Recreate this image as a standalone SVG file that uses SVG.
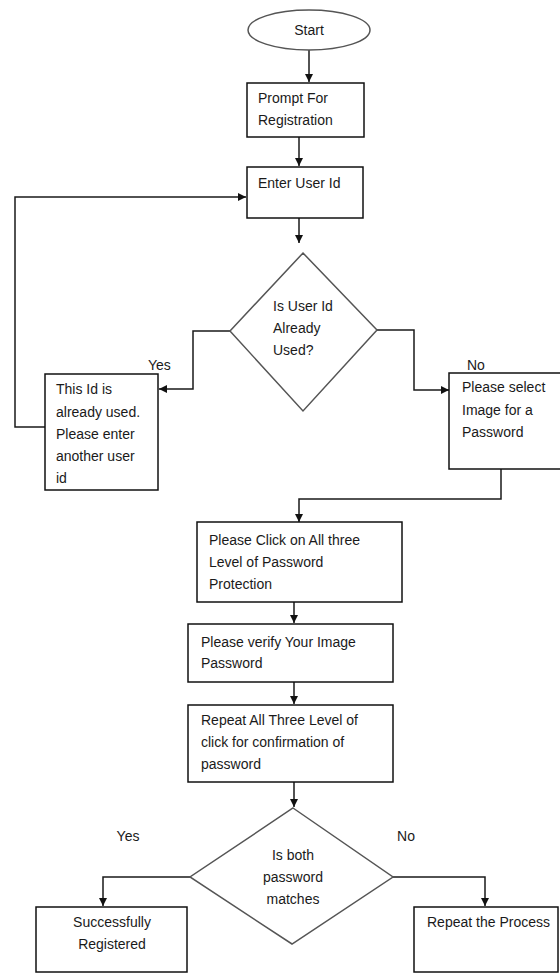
<svg xmlns="http://www.w3.org/2000/svg" width="560" height="974" viewBox="0 0 560 974">
<style>
.box{fill:#fff;stroke:#111;stroke-width:1.5}
.dia{fill:#fff;stroke:#555;stroke-width:1.5}
.con{fill:none;stroke:#1a1a1a;stroke-width:1.5}
text{font-family:"Liberation Sans",Arial,sans-serif;font-size:14px;fill:#1a1a1a}
.c{text-anchor:middle}
</style>
<defs>
<marker id="arr" viewBox="0 0 10 10" refX="10" refY="5" markerWidth="8" markerHeight="8" markerUnits="userSpaceOnUse" orient="auto">
<path d="M0,0 L10,5 L0,10 z" fill="#111"/>
</marker>
</defs>
<rect width="560" height="974" fill="#fff"/>
<g id="connectors">
<path class="con" d="M309,50 V82" marker-end="url(#arr)"/>
<path class="con" d="M299,137 V166" marker-end="url(#arr)"/>
<path class="con" d="M299,218 V243" marker-end="url(#arr)"/>
<path class="con" d="M45,427 H15 V197 H246" marker-end="url(#arr)"/>
<path class="con" d="M230,331 H193 V389 H159" marker-end="url(#arr)"/>
<path class="con" d="M377,330 H414 V390 H449" marker-end="url(#arr)"/>
<path class="con" d="M501,469 V499 H299 V522" marker-end="url(#arr)"/>
<path class="con" d="M294,602 V623" marker-end="url(#arr)"/>
<path class="con" d="M294,682 V704" marker-end="url(#arr)"/>
<path class="con" d="M294,782 V807" marker-end="url(#arr)"/>
<path class="con" d="M190,877 H103 V906" marker-end="url(#arr)"/>
<path class="con" d="M393,877 H485 V906" marker-end="url(#arr)"/>
</g>
<g id="start">
<ellipse cx="309" cy="30" rx="61" ry="20" class="dia" stroke="#222"/>
<text x="309" y="35" class="c">Start</text>
</g>
<g id="prompt">
<rect x="247" y="83" width="117" height="54" class="box"/>
<text x="258" y="103">Prompt For</text>
<text x="258" y="125">Registration</text>
</g>
<g id="enter-user-id">
<rect x="247" y="167" width="116" height="51" class="box"/>
<text x="258" y="188">Enter User Id</text>
</g>
<g id="decision-used">
<path d="M303,253 L377,330 L303,411 L230,331 Z" class="dia"/>
<text x="273" y="311">Is User Id</text>
<text x="273" y="333">Already</text>
<text x="273" y="355">Used?</text>
</g>
<g id="label-yes-1"><text x="148" y="370">Yes</text></g>
<g id="label-no-1"><text x="467" y="370">No</text></g>
<g id="already-used">
<rect x="45" y="374" width="113" height="116" class="box"/>
<text x="56" y="394">This Id is</text>
<text x="56" y="417">already used.</text>
<text x="56" y="439">Please enter</text>
<text x="56" y="461">another user</text>
<text x="56" y="483">id</text>
</g>
<g id="select-image">
<rect x="449" y="373" width="120" height="96" class="box"/>
<text x="462" y="392">Please select</text>
<text x="462" y="415">Image for a</text>
<text x="462" y="437">Password</text>
</g>
<g id="click-levels">
<rect x="197" y="522" width="205" height="80" class="box"/>
<text x="209" y="545">Please Click on All three</text>
<text x="209" y="567">Level of Password</text>
<text x="209" y="589">Protection</text>
</g>
<g id="verify-image">
<rect x="188" y="624" width="205" height="58" class="box"/>
<text x="201" y="647">Please verify Your Image</text>
<text x="201" y="668">Password</text>
</g>
<g id="repeat-levels">
<rect x="188" y="705" width="205" height="77" class="box"/>
<text x="201" y="725">Repeat All Three Level of</text>
<text x="201" y="747">click for confirmation of</text>
<text x="201" y="769">password</text>
</g>
<g id="decision-match">
<path d="M293,808 L393,877 L292,944 L190,877 Z" class="dia"/>
<text x="293" y="860" class="c">Is both</text>
<text x="293" y="882" class="c">password</text>
<text x="293" y="904" class="c">matches</text>
</g>
<g id="label-yes-2"><text x="128" y="841" class="c">Yes</text></g>
<g id="label-no-2"><text x="406" y="841" class="c">No</text></g>
<g id="success">
<rect x="36" y="907" width="151" height="65" class="box"/>
<text x="112" y="927" class="c">Successfully</text>
<text x="112" y="949" class="c">Registered</text>
</g>
<g id="repeat-process">
<rect x="414" y="907" width="144" height="65" class="box"/>
<text x="427" y="927">Repeat the Process</text>
</g>
</svg>
